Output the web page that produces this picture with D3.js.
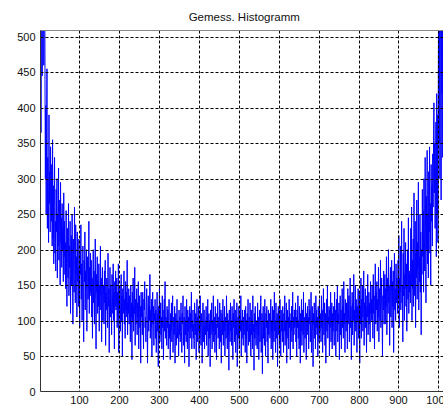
<!DOCTYPE html>
<html>
<head>
<meta charset="utf-8">
<script src="https://cdn.jsdelivr.net/npm/d3@7"></script>
<style>
    body { margin: 0; background: #fff; overflow: hidden; }
    svg { display: block; }
    text { font-family: Arial, "Liberation Sans", sans-serif; fill: #111; }
</style>
</head>
<body>
<svg id="chart"></svg>
<script>
const titleText = 'Gemess. Histogramm';
const xTicks = [100, 200, 300, 400, 500, 600, 700, 800, 900, 1000];
const yTicks = [0, 50, 100, 150, 200, 250, 300, 350, 400, 450, 500];
const firstBin = 1;

// counts per bin 1..1024 (rows of 32 bins)
const counts = [
    880, 430, 720, 365, 610, 950, 445, 690, 520, 830, 460, 600, 760, 440, 300, 403, 250, 355, 455, 230, 330, 280, 210, 390, 265, 310, 225, 345, 275, 240, 320, 205,
    355, 215, 290, 180, 260, 330, 195, 240, 170, 285, 225, 300, 160, 250, 205, 315, 185, 270, 230, 150, 295, 210, 245, 175, 265, 200, 230, 155, 280, 190, 240, 165,
    210, 145, 255, 180, 120, 230, 195, 160, 265, 135, 205, 175, 240, 110, 190, 220, 150, 250, 170, 95, 215, 185, 140, 260, 200, 125, 235, 165, 190, 105, 225, 155,
    175, 120, 215, 150, 90, 195, 165, 235, 130, 180, 100, 160, 205, 140, 70, 185, 155, 225, 115, 170, 145, 200, 85, 165, 190, 130, 150, 240, 110, 175, 135, 195,
    140, 185, 105, 160, 75, 150, 200, 125, 170, 95, 145, 215, 130, 60, 165, 140, 190, 110, 155, 120, 180, 85, 150, 135, 205, 115, 160, 70, 145, 175, 100, 135,
    150, 95, 170, 125, 185, 65, 140, 115, 160, 130, 90, 195, 120, 145, 55, 135, 175, 105, 150, 125, 80, 165, 135, 110, 180, 100, 140, 60, 155, 120, 170, 115,
    125, 160, 90, 140, 105, 180, 55, 130, 115, 150, 85, 120, 165, 100, 135, 50, 145, 110, 125, 170, 95, 130, 75, 155, 115, 140, 105, 185, 80, 125, 110, 145,
    95, 135, 115, 70, 150, 105, 125, 45, 140, 100, 160, 85, 120, 110, 175, 65, 130, 95, 115, 145, 80, 125, 105, 155, 60, 110, 135, 90, 120, 40, 140, 105,
    120, 80, 140, 100, 60, 130, 115, 155, 90, 105, 70, 125, 145, 95, 40, 110, 135, 85, 120, 100, 165, 75, 115, 90, 130, 50, 105, 140, 95, 120, 65, 110,
    100, 130, 75, 115, 55, 95, 140, 85, 110, 35, 120, 100, 150, 70, 95, 125, 80, 105, 60, 135, 90, 115, 45, 100, 130, 85, 155, 75, 105, 95, 65, 120,
    90, 115, 60, 100, 130, 75, 95, 45, 110, 85, 125, 70, 100, 135, 55, 90, 105, 80, 120, 40, 95, 110, 65, 85, 130, 75, 100, 90, 50, 115, 80, 105,
    70, 100, 125, 85, 55, 110, 95, 135, 65, 90, 105, 40, 120, 80, 100, 70, 130, 90, 60, 115, 85, 105, 35, 95, 120, 75, 110, 90, 140, 60, 100, 85,
    115, 75, 95, 60, 125, 100, 80, 110, 45, 90, 130, 70, 105, 85, 120, 55, 95, 75, 135, 90, 65, 110, 100, 40, 85, 125, 70, 95, 115, 60, 100, 80,
    95, 120, 65, 105, 85, 130, 50, 90, 110, 75, 100, 35, 115, 80, 95, 125, 60, 100, 85, 135, 70, 90, 105, 55, 120, 80, 95, 45, 110, 90, 130, 75,
    85, 105, 60, 125, 90, 70, 115, 40, 95, 110, 80, 130, 65, 100, 85, 120, 50, 90, 105, 75, 135, 95, 60, 110, 80, 100, 30, 115, 90, 70, 125, 85,
    100, 65, 120, 85, 45, 110, 90, 130, 70, 95, 115, 55, 100, 80, 125, 35, 90, 105, 75, 120, 60, 95, 110, 85, 135, 50, 100, 75, 115, 90, 65, 105,
    80, 115, 95, 55, 120, 75, 100, 40, 110, 85, 130, 65, 95, 105, 70, 125, 90, 50, 115, 80, 100, 60, 135, 85, 95, 30, 110, 75, 120, 90, 65, 100,
    90, 60, 125, 80, 105, 45, 95, 115, 70, 100, 135, 55, 85, 110, 25, 95, 120, 75, 100, 65, 130, 85, 50, 110, 90, 120, 70, 100, 40, 115, 80, 95,
    110, 75, 95, 130, 60, 100, 85, 120, 45, 90, 115, 70, 140, 85, 100, 55, 125, 90, 75, 110, 35, 95, 120, 80, 105, 65, 130, 90, 50, 115, 85, 100,
    70, 120, 90, 55, 110, 85, 135, 65, 100, 80, 125, 40, 95, 115, 75, 105, 60, 130, 90, 110, 45, 100, 85, 120, 70, 95, 140, 60, 105, 80, 115, 90,
    95, 125, 70, 105, 50, 115, 90, 135, 75, 100, 60, 120, 95, 40, 110, 85, 130, 65, 100, 115, 80, 140, 55, 95, 105, 75, 125, 90, 45, 110, 85, 120,
    80, 105, 60, 130, 95, 115, 70, 100, 140, 55, 90, 120, 85, 35, 110, 95, 125, 75, 100, 60, 135, 90, 115, 80, 105, 50, 120, 95, 70, 130, 85, 110,
    100, 70, 135, 90, 115, 55, 105, 145, 80, 95, 125, 65, 110, 40, 100, 130, 85, 150, 75, 105, 95, 120, 50, 115, 90, 140, 70, 100, 125, 60, 110, 85,
    120, 90, 65, 140, 100, 115, 50, 105, 130, 85, 150, 70, 110, 95, 125, 45, 100, 135, 80, 115, 60, 105, 145, 90, 120, 75, 155, 95, 110, 55, 130, 100,
    85, 125, 105, 60, 145, 95, 115, 135, 70, 110, 160, 90, 120, 45, 105, 140, 80, 125, 100, 165, 65, 115, 95, 150, 85, 130, 110, 55, 120, 100, 145, 75,
    110, 140, 40, 120, 95, 160, 75, 130, 105, 150, 85, 115, 170, 65, 125, 100, 145, 90, 135, 55, 120, 105, 165, 80, 115, 140, 95, 125, 70, 155, 110, 130,
    100, 150, 120, 75, 165, 110, 135, 60, 125, 180, 95, 140, 115, 155, 85, 130, 105, 175, 70, 120, 145, 100, 185, 90, 125, 160, 110, 50, 135, 115, 170, 95,
    130, 165, 95, 145, 120, 190, 80, 135, 160, 110, 200, 125, 150, 65, 140, 175, 105, 130, 185, 90, 155, 120, 170, 55, 135, 195, 115, 145, 100, 180, 125, 160,
    145, 110, 185, 130, 220, 90, 160, 140, 205, 115, 175, 240, 125, 150, 70, 195, 135, 230, 100, 165, 145, 210, 120, 180, 85, 155, 200, 130, 245, 110, 170, 140,
    165, 125, 230, 150, 260, 100, 185, 145, 215, 120, 280, 170, 135, 240, 90, 195, 160, 270, 130, 210, 175, 295, 115, 190, 155, 250, 140, 225, 80, 200, 165, 285,
    190, 255, 140, 300, 215, 170, 330, 230, 125, 275, 200, 340, 180, 250, 160, 310, 225, 345, 195, 265, 150, 320, 240, 290, 205, 335, 260, 354, 407, 280, 350, 230,
    300, 380, 190, 420, 250, 390, 210, 440, 620, 350, 780, 300, 560, 900, 270, 690, 420, 830, 330, 600, 750, 380, 950, 290, 700, 450, 880, 310, 760, 400, 820, 660
];

const width = 443;
const height = 405;
const plot = { left: 40.5, right: 448, top: 30.5, bottom: 391.5 };

const svg = d3.select('#chart')
    .attr('width', width)
    .attr('height', height);

const x = d3.scaleLinear().domain([1, 1024]).range([39.8, 447.9]);
const y = d3.scaleLinear().domain([0, 509]).range([plot.bottom, plot.top]);

svg.append('defs').append('clipPath')
    .attr('id', 'plot-clip')
    .append('rect')
    .attr('x', plot.left)
    .attr('y', plot.top)
    .attr('width', plot.right - plot.left)
    .attr('height', plot.bottom - plot.top);

// histogram trace
const line = d3.line()
    .x((d, i) => x(firstBin + i))
    .y(d => y(d));

svg.append('path')
    .datum(counts)
    .attr('clip-path', 'url(#plot-clip)')
    .attr('fill', 'none')
    .attr('stroke', '#0000ff')
    .attr('stroke-width', 1)
    .attr('d', line);

// dotted grid drawn over the data, like the matlab figure
const grid = svg.append('g')
    .attr('stroke', '#000')
    .attr('stroke-width', 1)
    .attr('stroke-dasharray', '3,2');

grid.selectAll('.vgrid')
    .data(xTicks)
    .enter()
    .append('line')
    .attr('x1', d => Math.round(x(d)) + 0.5)
    .attr('x2', d => Math.round(x(d)) + 0.5)
    .attr('y1', plot.top)
    .attr('y2', plot.bottom);

grid.selectAll('.hgrid')
    .data(yTicks.filter(d => d > 0))
    .enter()
    .append('line')
    .attr('x1', plot.left)
    .attr('x2', plot.right)
    .attr('y1', d => Math.round(y(d)) + 0.5)
    .attr('y2', d => Math.round(y(d)) + 0.5);

// axes box
svg.append('line')
    .attr('x1', plot.left).attr('x2', plot.right)
    .attr('y1', plot.top).attr('y2', plot.top)
    .attr('stroke', '#888');
svg.append('line')
    .attr('x1', plot.left).attr('x2', plot.left)
    .attr('y1', plot.top).attr('y2', plot.bottom)
    .attr('stroke', '#333');
svg.append('line')
    .attr('x1', plot.left).attr('x2', plot.right)
    .attr('y1', plot.bottom).attr('y2', plot.bottom)
    .attr('stroke', '#333');

// tick labels
svg.append('g')
    .selectAll('text')
    .data(yTicks)
    .enter()
    .append('text')
    .attr('x', 35.5)
    .attr('y', d => Math.round(y(d)) + 0.5)
    .attr('dy', '0.36em')
    .attr('text-anchor', 'end')
    .attr('font-size', 11)
    .text(d => d);

svg.append('g')
    .selectAll('text')
    .data(xTicks)
    .enter()
    .append('text')
    .attr('x', d => Math.round(x(d)) + 0.5)
    .attr('y', 404)
    .attr('text-anchor', 'middle')
    .attr('font-size', 11)
    .text(d => d);

svg.append('text')
    .attr('x', (plot.left + plot.right) / 2)
    .attr('y', 20.5)
    .attr('text-anchor', 'middle')
    .attr('font-size', 11.5)
    .text(titleText);
</script>
</body>
</html>
